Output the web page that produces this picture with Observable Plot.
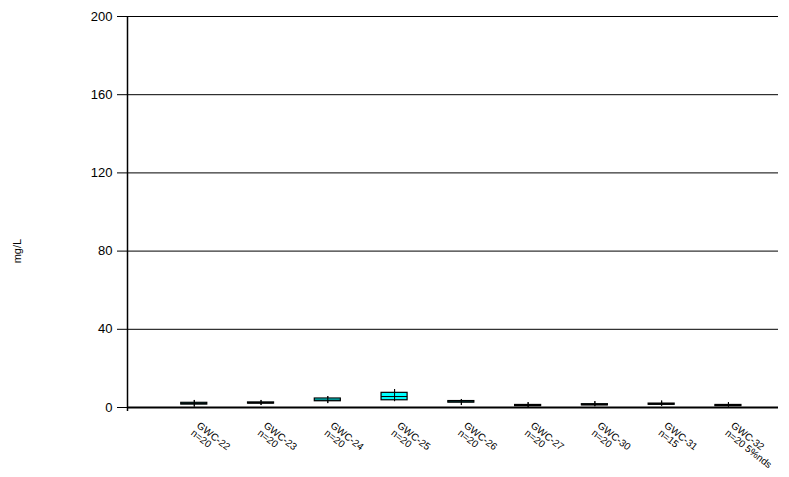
<!DOCTYPE html>
<html>
<head>
<meta charset="utf-8">
<script src="https://cdn.jsdelivr.net/npm/d3@7"></script>
<script src="https://cdn.jsdelivr.net/npm/@observablehq/plot@0.6"></script>
<style>
  html, body { margin: 0; padding: 0; background: #fff; }
  #chart svg { display: block; font-family: "Liberation Sans", Arial, sans-serif; }
</style>
</head>
<body>
<div id="chart"></div>
<script>
const wells = ["GWC-22", "GWC-23", "GWC-24", "GWC-25", "GWC-26", "GWC-27", "GWC-30", "GWC-31", "GWC-32"];
const counts = ["n=20", "n=20", "n=20", "n=20", "n=20", "n=20", "n=20", "n=15", "n=20 5%nds"];
const minVals = [0.2, 1.0, 2.0, 3.0, 1.0, 0.0, 0.4, 0.6, 0.2];
const q1Vals = [1.5, 2.0, 3.2, 3.7, 2.5, 0.7, 1.1, 1.4, 0.7];
const medVals = [2.0, 2.3, 3.8, 5.6, 2.9, 1.0, 1.4, 1.7, 1.0];
const q3Vals = [2.4, 2.6, 4.6, 7.5, 3.3, 1.3, 1.7, 2.0, 1.3];
const maxVals = [3.6, 3.6, 5.6, 9.2, 4.1, 2.5, 3.0, 3.3, 2.5];
const yTicks = [0, 40, 80, 120, 160, 200];
const gridLines = [40, 80, 120, 160, 200];

const data = wells.map((w, i) => ({
  pos: i + 1, well: w, n: counts[i],
  min: minVals[i], q1: q1Vals[i], med: medVals[i], q3: q3Vals[i], max: maxVals[i]
}));
const halfW = 0.195;

const chart = Plot.plot({
  width: 789,
  height: 477,
  marginLeft: 127,
  marginRight: 11,
  marginTop: 16,
  marginBottom: 70,
  style: { fontFamily: "'Liberation Sans', Arial, sans-serif", fontSize: "13px", color: "#000", background: "#fff" },
  x: { domain: [0, 9.75], axis: null },
  y: { domain: [0, 200] },
  marks: [
    Plot.ruleY(gridLines, { stroke: "#000", strokeWidth: 1 }),
    Plot.axisY({ ticks: yTicks, tickSize: 10, tickPadding: 5, label: null, fontSize: 13 }),
    Plot.ruleX(data, { x: "pos", y1: "min", y2: "max", stroke: "#000", strokeWidth: 1 }),
    Plot.rect(data, {
      x1: d => d.pos - halfW, x2: d => d.pos + halfW,
      y1: "q1", y2: "q3", fill: "#00ffff", stroke: "#000", strokeWidth: 1.2
    }),
    Plot.ruleY(data, { y: "med", x1: d => d.pos - halfW, x2: d => d.pos + halfW, stroke: "#000", strokeWidth: 1 }),
    Plot.ruleX(data, { x: "pos", y1: "min", y2: "max", stroke: "#000", strokeWidth: 1 }),
    Plot.ruleY([0], { stroke: "#000", strokeWidth: 2 }),
    Plot.ruleX([0], { y1: -2, y2: 200, stroke: "#000", strokeWidth: 1.5 }),
    Plot.text(data, {
      x: "pos", y: 0, text: d => d.well + "\n" + d.n,
      dx: 6, dy: 14, rotate: 38, textAnchor: "start", lineAnchor: "top", lineHeight: 0.95,
      fontSize: 10, fill: "#000"
    }),
    Plot.text(["mg/L"], { x: 0, y: 80, dx: -110, rotate: -90, fontSize: 11, fill: "#000" })
  ]
});
document.getElementById("chart").appendChild(chart);
</script>
</body>
</html>
